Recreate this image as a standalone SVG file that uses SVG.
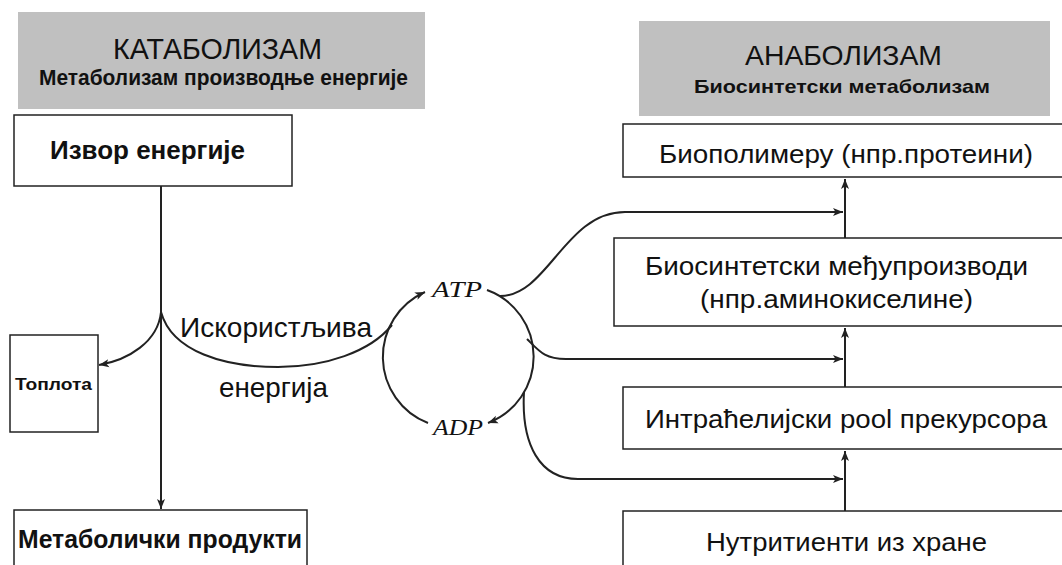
<svg xmlns="http://www.w3.org/2000/svg" width="1062" height="565" viewBox="0 0 1062 565">
<style>
.hdr{fill:#c0c0c0;stroke:none}
.box{fill:#fff;stroke:#222;stroke-width:1.5}
.t{font-family:"Liberation Sans",Arial,sans-serif;fill:#111}
.b{font-weight:bold}
.s{font-family:"Liberation Serif","Times New Roman",serif;font-style:italic;fill:#111}
.c{fill:none;stroke:#222;stroke-width:2}
</style>
<defs>
<marker id="ah" markerUnits="userSpaceOnUse" markerWidth="11" markerHeight="9" refX="10" refY="4.5" orient="auto">
<path d="M0,0.5 L10,4.5 L0,8.5 L2.5,4.5 z" fill="#222"/>
</marker>
</defs>
<rect width="1062" height="565" fill="#fff"/>
<g id="katabolizam">
<rect class="hdr" x="18" y="12" width="407" height="97"/>
<text class="t" x="113" y="59" font-size="29" textLength="209" lengthAdjust="spacingAndGlyphs">КАТАБОЛИЗАМ</text>
<text class="t b" x="39" y="85" font-size="22" textLength="369" lengthAdjust="spacingAndGlyphs">Метаболизам производње енергије</text>
</g>
<g id="anabolizam">
<rect class="hdr" x="639" y="21" width="411" height="95"/>
<text class="t" x="745" y="65" font-size="28" textLength="197" lengthAdjust="spacingAndGlyphs">АНАБОЛИЗАМ</text>
<text class="t b" x="694" y="93" font-size="19" textLength="296" lengthAdjust="spacingAndGlyphs">Биосинтетски метаболизам</text>
</g>
<g id="izvor">
<rect class="box" x="14" y="115" width="278" height="71"/>
<text class="t b" x="50" y="159" font-size="25" textLength="195" lengthAdjust="spacingAndGlyphs">Извор енергије</text>
</g>
<g id="toplota">
<rect class="box" x="10" y="335" width="88" height="97"/>
<text class="t b" x="15" y="390" font-size="16" textLength="77" lengthAdjust="spacingAndGlyphs">Топлота</text>
</g>
<g id="produkti">
<rect class="box" x="14" y="510" width="293" height="70"/>
<text class="t b" x="18" y="548" font-size="26" textLength="284" lengthAdjust="spacingAndGlyphs">Метаболички продукти</text>
</g>
<g id="biopolimeri">
<rect class="box" x="623" y="124" width="445" height="53"/>
<text class="t" x="659" y="163" font-size="26" textLength="374" lengthAdjust="spacingAndGlyphs">Биополимеру (нпр.протеини)</text>
</g>
<g id="medjuproizvodi">
<rect class="box" x="614" y="238" width="454" height="88"/>
<text class="t" x="645" y="275" font-size="26" textLength="383" lengthAdjust="spacingAndGlyphs">Биосинтетски међупроизводи</text>
<text class="t" x="700" y="308" font-size="26" textLength="273" lengthAdjust="spacingAndGlyphs">(нпр.аминокиселине)</text>
</g>
<g id="pool">
<rect class="box" x="623" y="387" width="445" height="62"/>
<text class="t" x="645" y="428" font-size="26" textLength="402" lengthAdjust="spacingAndGlyphs">Интраћелијски pool прекурсора</text>
</g>
<g id="nutritienti">
<rect class="box" x="623" y="511" width="445" height="70"/>
<text class="t" x="706" y="551" font-size="26" textLength="281" lengthAdjust="spacingAndGlyphs">Нутритиенти из хране</text>
</g>
<g id="atp-adp">
<text class="s" x="432" y="297" font-size="24" textLength="50" lengthAdjust="spacingAndGlyphs">ATP</text>
<text class="s" x="433" y="435" font-size="24" textLength="50" lengthAdjust="spacingAndGlyphs">ADP</text>
</g>
<g id="labels">
<text class="t" x="180" y="337" font-size="28" textLength="192" lengthAdjust="spacingAndGlyphs">Искористљива</text>
<text class="t" x="219" y="397" font-size="28" textLength="109" lengthAdjust="spacingAndGlyphs">енергија</text>
</g>
<g id="connectors">
<path class="c" d="M161,186 L161,509" marker-end="url(#ah)"/>
<path class="c" d="M161,312 C158,342 128,360 99,365" marker-end="url(#ah)"/>
<path class="c" d="M161,312 C172,352 225,367 278,367 C325,367 370,352 392,325"/>
<path class="c" d="M428,423 A71,71 0 0 1 425,292" marker-end="url(#ah)"/>
<path class="c" d="M487,290 A71,71 0 0 1 488,423" marker-end="url(#ah)"/>
<path class="c" d="M500,296 C548,296 565,212 625,212 L843,212" marker-end="url(#ah)"/>
<path class="c" d="M527,339 C540,352 545,359 566,359 L843,359" marker-end="url(#ah)"/>
<path class="c" d="M524,392 C521,445 540,479 578,479 L843,479" marker-end="url(#ah)"/>
<path class="c" d="M845,511 L845,451" marker-end="url(#ah)"/>
<path class="c" d="M845,387 L845,328" marker-end="url(#ah)"/>
<path class="c" d="M845,238 L845,179" marker-end="url(#ah)"/>
</g>
</svg>
